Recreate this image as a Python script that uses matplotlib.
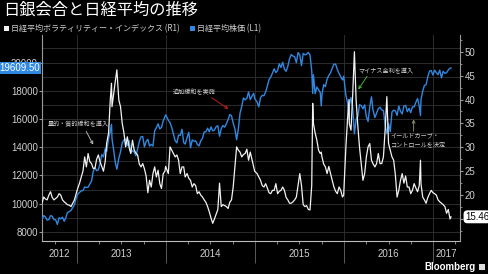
import numpy as np
import pandas as pd
import matplotlib
matplotlib.use("Agg")
import matplotlib.pyplot as plt
import matplotlib.dates as mdates
from matplotlib.patches import Rectangle
from matplotlib.ticker import FixedLocator, FuncFormatter
from matplotlib.transforms import blended_transform_factory

TITLE = "日銀会合と日経平均の推移"
VI_LABEL = "日経平均ボラティリティー・インデックス (R1)"
NK_LABEL = "日経平均株価 (L1)"
YEARS = ["2012", "2013", "2014", "2015", "2016", "2017"]

dates = [
    # 2012
    "2012-08-10", "2012-08-17", "2012-08-24", "2012-08-31", "2012-09-07", "2012-09-14", "2012-09-21",
    "2012-09-28", "2012-10-05", "2012-10-12", "2012-10-19", "2012-10-26", "2012-11-02", "2012-11-09",
    "2012-11-16", "2012-11-22", "2012-11-30", "2012-12-07", "2012-12-14", "2012-12-21", "2012-12-28",
    # 2013
    "2013-01-04", "2013-01-11", "2013-01-18", "2013-01-25", "2013-02-01", "2013-02-08", "2013-02-15",
    "2013-02-22", "2013-03-01", "2013-03-08", "2013-03-15", "2013-03-22", "2013-03-29", "2013-04-05",
    "2013-04-12", "2013-04-19", "2013-04-26", "2013-05-02", "2013-05-10", "2013-05-17", "2013-05-22",
    "2013-05-24", "2013-05-31", "2013-06-07", "2013-06-13", "2013-06-21", "2013-06-28", "2013-07-05",
    "2013-07-12", "2013-07-19", "2013-07-26", "2013-08-02", "2013-08-09", "2013-08-16", "2013-08-23",
    "2013-08-30", "2013-09-06", "2013-09-13", "2013-09-20", "2013-09-27", "2013-10-04", "2013-10-11",
    "2013-10-18", "2013-10-25", "2013-11-01", "2013-11-08", "2013-11-15", "2013-11-22", "2013-11-29",
    "2013-12-06", "2013-12-13", "2013-12-20", "2013-12-27", "2013-12-30",
    # 2014
    "2014-01-10", "2014-01-17", "2014-01-24", "2014-01-31", "2014-02-07", "2014-02-14", "2014-02-21",
    "2014-02-28", "2014-03-07", "2014-03-14", "2014-03-20", "2014-03-28", "2014-04-04", "2014-04-11",
    "2014-04-18", "2014-04-25", "2014-05-02", "2014-05-09", "2014-05-16", "2014-05-23", "2014-05-30",
    "2014-06-06", "2014-06-13", "2014-06-20", "2014-06-27", "2014-07-04", "2014-07-11", "2014-07-18",
    "2014-07-25", "2014-08-01", "2014-08-08", "2014-08-15", "2014-08-22", "2014-08-29", "2014-09-05",
    "2014-09-12", "2014-09-19", "2014-09-26", "2014-10-03", "2014-10-10", "2014-10-17", "2014-10-24",
    "2014-10-31", "2014-11-07", "2014-11-14", "2014-11-21", "2014-11-28", "2014-12-05", "2014-12-12",
    "2014-12-19", "2014-12-26", "2014-12-30",
    # 2015
    "2015-01-09", "2015-01-16", "2015-01-23", "2015-01-30", "2015-02-06", "2015-02-13", "2015-02-20",
    "2015-02-27", "2015-03-06", "2015-03-13", "2015-03-20", "2015-03-27", "2015-04-03", "2015-04-10",
    "2015-04-17", "2015-04-24", "2015-05-01", "2015-05-08", "2015-05-15", "2015-05-22", "2015-05-29",
    "2015-06-05", "2015-06-12", "2015-06-19", "2015-06-26", "2015-07-03", "2015-07-10", "2015-07-17",
    "2015-07-24", "2015-07-31", "2015-08-07", "2015-08-14", "2015-08-21", "2015-08-25", "2015-08-28",
    "2015-09-04", "2015-09-11", "2015-09-18", "2015-09-25", "2015-09-29", "2015-10-02", "2015-10-09",
    "2015-10-16", "2015-10-23", "2015-10-30", "2015-11-06", "2015-11-13", "2015-11-20", "2015-11-27",
    "2015-12-04", "2015-12-11", "2015-12-18", "2015-12-25", "2015-12-30",
    # 2016
    "2016-01-08", "2016-01-15", "2016-01-21", "2016-01-22", "2016-01-29", "2016-02-05", "2016-02-12",
    "2016-02-19", "2016-02-26", "2016-03-04", "2016-03-11", "2016-03-18", "2016-03-25", "2016-04-01",
    "2016-04-08", "2016-04-15", "2016-04-22", "2016-04-28", "2016-05-06", "2016-05-13", "2016-05-20",
    "2016-05-27", "2016-06-03", "2016-06-10", "2016-06-17", "2016-06-24", "2016-07-01", "2016-07-08",
    "2016-07-15", "2016-07-22", "2016-07-29", "2016-08-05", "2016-08-12", "2016-08-19", "2016-08-26",
    "2016-09-02", "2016-09-09", "2016-09-16", "2016-09-23", "2016-09-30", "2016-10-07", "2016-10-14",
    "2016-10-21", "2016-10-28", "2016-11-04", "2016-11-09", "2016-11-11", "2016-11-18", "2016-11-25",
    "2016-12-02", "2016-12-09", "2016-12-16", "2016-12-23", "2016-12-30",
    # 2017
    "2017-01-06", "2017-01-13", "2017-01-20", "2017-01-27", "2017-02-03", "2017-02-10", "2017-02-17",
    "2017-02-24", "2017-03-03", "2017-03-10", "2017-03-14",
]

nikkei = [
    8891, 9162, 9070, 8840, 8872, 9159, 9110, 8870, 8863, 8534, 9002, 8934, 9051, 8757,
    9024, 9366, 9446, 9527, 9737, 9940, 10395,
    10688, 10801, 10913, 10927, 11191, 11153, 11173, 11386, 11606, 12283, 12560, 12338, 12398, 12834,
    13485, 13317, 13884, 13694, 14608, 15138, 15627, 14612, 13775, 12877, 12445, 13230, 13677, 14310,
    14506, 14589, 14130, 14467, 13615, 13753, 13660, 13389, 13861, 14405, 14742, 14760, 14024, 14404,
    14561, 14088, 14201, 14086, 15166, 15382, 15662, 15299, 15403, 15870, 16178, 16291,
    15912, 15734, 15391, 14915, 14462, 14313, 14866, 14841, 15275, 14327, 14224, 14696, 15063, 13960,
    14516, 14429, 14458, 14199, 14097, 14462, 14632, 15077, 15098, 15349, 15095, 15437, 15164, 15215,
    15457, 15524, 14778, 15318, 15539, 15425, 15669, 15948, 16321, 16229, 15708, 15300, 14532, 15291,
    16414, 16880, 17490, 17358, 17460, 17920, 17371, 17621, 17818, 17451,
    17198, 16864, 17512, 17674, 17648, 17913, 18332, 18798, 18971, 19254, 19560, 19286, 19435, 19908,
    19652, 20020, 19532, 19379, 19733, 20264, 20563, 20461, 20407, 19990, 20706, 20540, 19780, 20650,
    20544, 20585, 20724, 20520, 19436, 17806, 19136, 17792, 18264, 18070, 17880, 16931, 17725, 18438,
    18291, 18825, 19083, 19265, 19597, 19879, 19883, 19504, 19230, 18986, 18769, 19034,
    17698, 17147, 16017, 16959, 17518, 16820, 14953, 15967, 16188, 17015, 16939, 16725, 17002, 16164,
    15822, 16848, 17572, 16666, 16106, 16412, 16736, 16835, 16642, 16601, 15600, 14952, 15682, 15107,
    16497, 16627, 16569, 16254, 16920, 16546, 16361, 16926, 16965, 16519, 16754, 16450, 16860, 16856,
    17184, 17446, 16905, 16251, 17374, 17968, 18381, 18426, 18996, 19401, 19428, 19114,
    19454, 19287, 19137, 19467, 18918, 19379, 19235, 19283, 19469, 19605, 19609.50,
]

nikkei_vi = [
    18.3, 19.6, 19.2, 19.0, 20.0, 20.7, 19.5, 19.0, 19.3, 19.6, 20.3, 20.0, 19.0, 18.6,
    18.3, 18.0, 17.9, 17.6, 18.3, 19.0, 20.3,
    21.5, 22.5, 23.8, 25.0, 28.0, 25.9, 28.7, 27.0, 26.6, 25.6, 25.6, 27.5, 28.4, 27.0,
    26.0, 25.0, 27.0, 30.8, 33.0, 40.0, 43.4, 38.5, 41.3, 44.0, 46.2, 39.9, 38.5, 35.0,
    33.0, 30.1, 32.2, 30.0, 28.7, 31.5, 29.4, 28.8, 28.4, 26.5, 25.9, 26.6, 25.5, 24.0,
    20.5, 23.1, 21.7, 24.5, 25.9, 23.8, 25.2, 22.4, 21.4, 24.5, 25.0, 26.0,
    24.5, 30.1, 29.4, 28.7, 28.0, 28.4, 27.3, 24.5, 25.9, 25.9, 23.8, 24.5, 23.5, 23.1,
    21.7, 22.4, 22.0, 20.3, 20.7, 20.0, 19.6, 19.0, 18.5, 17.6, 16.5, 15.2, 14.1, 15.0,
    16.0, 17.0, 22.5, 17.6, 18.0, 17.8, 17.6, 17.2, 18.5, 19.0, 21.7, 26.0, 30.1, 29.4,
    29.0, 28.0, 28.5, 28.7, 29.6, 27.3, 29.0, 27.5, 25.9, 25.0,
    24.5, 23.8, 23.1, 22.0, 21.7, 22.4, 21.5, 20.5, 20.3, 21.0, 21.0, 22.4, 20.3, 20.8,
    21.0, 21.7, 21.0, 19.5, 19.0, 18.3, 18.3, 18.6, 19.0, 19.6, 22.0, 24.5, 22.0, 18.0,
    17.6, 17.8, 17.0, 16.9, 22.0, 39.2, 35.0, 33.0, 31.5, 29.4, 28.7, 29.0, 28.0, 26.5,
    25.9, 24.5, 26.0, 24.5, 23.1, 21.7, 20.8, 20.3, 21.7, 21.0, 19.6, 20.0,
    30.0, 36.0, 40.0, 35.0, 33.6, 41.0, 50.0, 39.9, 34.5, 30.0, 26.5, 23.1, 24.5, 28.0,
    30.1, 30.8, 27.3, 26.6, 25.9, 26.6, 28.7, 26.6, 26.6, 28.0, 33.6, 40.6, 30.8, 29.4,
    28.0, 27.3, 24.2, 19.6, 21.0, 23.1, 24.5, 22.5, 24.0, 21.7, 21.7, 20.3, 21.0, 22.4,
    21.5, 20.7, 22.0, 27.3, 22.4, 19.6, 19.0, 18.3, 19.5, 20.3, 21.0, 20.5,
    20.3, 20.0, 19.0, 18.6, 18.3, 18.0, 17.6, 16.2, 17.0, 15.0, 15.46,
]

# (text, label date, label level, arrow tail date/level, arrow tip date/level, colour)
EVENTS = [
    ("量的・質的緩和を導入", "2013-01-05", 15610, "2013-02-07", 15130, "2013-03-08", 14190, "#c8c8c8"),
    ("追加緩和を実施", "2014-04-27", 17880, "2014-07-07", 17500, "2014-09-13", 16720, "#d42020"),
    ("マイナス金利を導入", "2016-06-21", 19380, "2016-04-04", 19020, "2016-02-28", 18100, "#4cc83c"),
    ("イールドカーブ・\nコントロールを決定", "2016-07-08", 14540, "2016-10-12", 15130, "2016-10-12", 15960, "#9c9c74"),
]

COLORS = {
    "bg": "#000000",
    "blue": "#3088e2",
    "white": "#f2f2f2",
    "grid": "#2c2c2c",
    "text": "#cfcfcf",
    "spine": "#9a9a9a",
}
JP = ["Noto Sans CJK JP", "DejaVu Sans"]

plt.rcParams["font.family"] = ["Liberation Sans Narrow", "Liberation Sans", "DejaVu Sans"]

d = pd.to_datetime(dates)
W, H = 488, 274

fig = plt.figure(figsize=(W / 100, H / 100), dpi=100, facecolor=COLORS["bg"])
ax = fig.add_axes([42 / W, 33 / H, 418 / W, 206 / H])
ax.set_facecolor(COLORS["bg"])
ax2 = ax.twinx()

ax.plot(d, nikkei, color=COLORS["blue"], lw=1.0, zorder=3)
ax2.plot(d, nikkei_vi, color=COLORS["white"], lw=0.9, zorder=3)

xmin, xmax = pd.Timestamp("2012-08-10"), pd.Timestamp("2017-04-20")
ax.set_xlim(xmin, xmax)
ax.set_ylim(7360, 21950)
ax2.set_ylim(10.4, 53.5)

for s in ["top", "right"]:
    ax.spines[s].set_visible(False)
for s in ["top", "left", "bottom"]:
    ax2.spines[s].set_visible(False)
ax.spines["left"].set_color(COLORS["spine"])
ax.spines["bottom"].set_color("#bbbbbb")
ax2.spines["right"].set_color(COLORS["spine"])
for sp in [ax.spines["left"], ax.spines["bottom"], ax2.spines["right"]]:
    sp.set_linewidth(0.8)

# y axes
ax.yaxis.set_major_locator(FixedLocator(np.arange(8000, 20001, 2000)))
ax.yaxis.set_minor_locator(FixedLocator(np.arange(9000, 21001, 2000)))
ax.grid(which="both", axis="y", color=COLORS["grid"], lw=0.7)
ax.tick_params(axis="y", which="major", length=2, width=0.8, color=COLORS["spine"],
               labelcolor=COLORS["text"], labelsize=7, pad=1)
ax.tick_params(axis="y", which="minor", length=0)

# the 15 label sits under the last-value tag, as in the original
ax2.yaxis.set_major_locator(FixedLocator(np.arange(15, 51, 5)))
ax2.yaxis.set_major_formatter(FuncFormatter(lambda v, p: "" if v < 17 else f"{v:.0f}"))
ax2.yaxis.set_minor_locator(FixedLocator(np.arange(12.5, 53, 5)))
ax2.tick_params(axis="y", which="major", length=2.5, width=0.8, color=COLORS["spine"],
                labelcolor=COLORS["text"], labelsize=7, pad=1)
ax2.tick_params(axis="y", which="minor", length=1.5, width=0.6, color=COLORS["spine"])

# x axis: year dividers that run down through the label band, quarterly minor ticks
ax.xaxis.set_major_locator(mdates.YearLocator())
ax.xaxis.set_minor_locator(mdates.MonthLocator(bymonth=[1, 4, 7, 10]))
ax.grid(which="major", axis="x", color=COLORS["grid"], lw=0.7)
ax.tick_params(axis="x", which="major", length=16, width=0.7, color="#5a5a5a", labelbottom=False)
ax.tick_params(axis="x", which="minor", length=2, width=0.6, color="#999999")

bounds = [xmin] + [pd.Timestamp(f"{y}-01-01") for y in YEARS[1:]] + [xmax]
trans_x = blended_transform_factory(ax.transData, ax.transAxes)
for lab, a, b in zip(YEARS, bounds[:-1], bounds[1:]):
    ax.text(a + (b - a) / 2, -0.064, lab, transform=trans_x, ha="center", va="center",
            color=COLORS["text"], fontsize=7)

# event annotations
for text, td, tv, ad, av, hd, hv, col in EVENTS:
    multi = "\n" in text
    ax.text(pd.Timestamp(td), tv, text, ha="left" if multi else "center", va="center",
            family=JP, fontsize=4.4, color=COLORS["text"], linespacing=1.25, zorder=5)
    ax.annotate("", xy=(pd.Timestamp(hd), hv), xytext=(pd.Timestamp(ad), av),
                arrowprops=dict(arrowstyle="->", color=col, lw=0.6,
                                shrinkA=0, shrinkB=0, mutation_scale=5), zorder=5)

# last value tags
trans_l = blended_transform_factory(ax.transAxes, ax.transData)
ax.text(-0.004, nikkei[-1], f"{nikkei[-1]:.2f}", transform=trans_l, ha="right", va="center",
        color="white", fontsize=7, zorder=10, clip_on=False,
        bbox=dict(boxstyle="square,pad=0.12", fc=COLORS["blue"], ec="none"))
trans_r = blended_transform_factory(ax2.transAxes, ax2.transData)
ax2.text(1.012, nikkei_vi[-1], f"{nikkei_vi[-1]:.2f}", transform=trans_r, ha="left", va="center",
         color="black", fontsize=7, zorder=10, clip_on=False,
         bbox=dict(boxstyle="round,pad=0.15,rounding_size=0.4", fc="white", ec="none"))

# title + legend
fig.text(3 / W, 1 - 10 / H, TITLE, family=JP, fontsize=11.7, color="white", va="center")
fig.add_artist(Rectangle((4 / W, 1 - 31 / H), 5 / W, 5 / H, transform=fig.transFigure,
                         fc=COLORS["white"], ec="none"))
fig.text(11 / W, 1 - 28.5 / H, VI_LABEL, family=JP, fontsize=5.8, color=COLORS["text"], va="center")
fig.add_artist(Rectangle((190 / W, 1 - 31 / H), 5 / W, 5 / H, transform=fig.transFigure,
                         fc=COLORS["blue"], ec="none"))
fig.text(197 / W, 1 - 28.5 / H, NK_LABEL, family=JP, fontsize=5.8, color=COLORS["text"], va="center")

# Bloomberg mark
fig.text(476 / W, 1 - 267 / H, "Bloomberg", ha="right", va="center", color="white",
         fontsize=7, weight="bold", family=["Liberation Sans", "DejaVu Sans"])
fig.add_artist(Rectangle((479 / W, 1 - 270 / H), 6 / W, 6 / H, transform=fig.transFigure,
                         fc="#dddddd", ec="none"))

fig.savefig("out.png", dpi=100, facecolor=COLORS["bg"])
